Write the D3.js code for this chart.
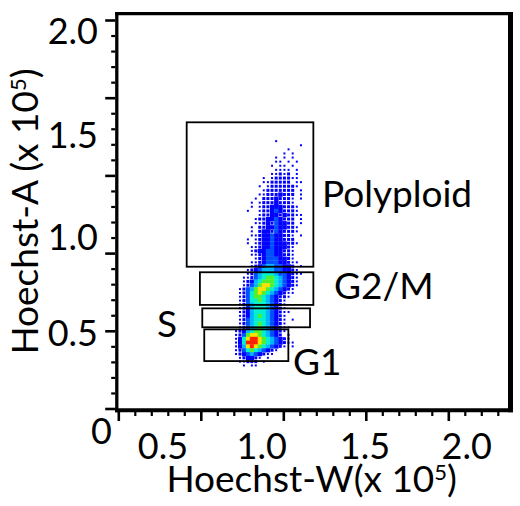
<!DOCTYPE html>
<html><head><meta charset="utf-8">
<script src="https://cdn.jsdelivr.net/npm/d3@7"></script>
<style>
body{margin:0;background:#fff}
text{font-family:Lato,'Open Sans',sans-serif;fill:#000}
</style>
</head><body>
<svg id="chart" width="520" height="506"></svg>
<script>
// ---- data ----
const xTickLabels = [0.5, 1.0, 1.5, 2.0];
const yTickLabels = [0.5, 1.0, 1.5, 2.0];
const originLabel = "0";
const xTitleText = "Hoechst-W(x 10";
const yTitleText = "Hoechst-A (x 10";
const exponentText = "5";
// instrument tick marks (major / minor)
const xMajorTicks = [0, 1, 2, 3, 4];
const xMinorTicks = [0.2,0.4,0.6,0.8,1.2,1.4,1.6,1.8,2.2,2.4,2.6,2.8,3.2,3.4,3.6,3.8,4.2,4.4,4.6];
const yMajorTicks = [0, 1, 2, 3, 4, 5];
const yMinorTicks = [0.2,0.4,0.6,0.8,1.2,1.4,1.6,1.8,2.2,2.4,2.6,2.8,3.2,3.4,3.6,3.8,4.2,4.4,4.6,4.8];
// gates (x 10^5 units)
const gateNames = ["Polyploid", "G2/M", "S", "G1"];
const gateXmin = [0.620, 0.687, 0.699, 0.709];
const gateXmax = [1.250, 1.250, 1.234, 1.129];
const gateYmin = [0.847, 0.647, 0.530, 0.353];
const gateYmax = [1.561, 0.818, 0.629, 0.519];
// event density (levels 0-9), bins of 0.02 x 0.02, columns from x=0.86, rows from y=1.46 (top) downward
const densityX0 = 0.86;
const densityTop = 1.46;
const densityBin = 0.02;
const densityRows = [
"..........1......",
"................1",
".............1...",
"............1.1..",
"..........1.1.1..",
"..........11.1.1.",
".........1.11.1..",
"..........1111.1.",
".........11212.1.",
".......1.1222211.",
".......1122222.11",
"......1.12222221.",
".......12222222.1",
"......112223222.1",
".....1.22232221.1",
"....1.122232221..",
"....1.1223332221.",
"...1..1223432221.",
"......12233232211",
".....1223343222.1",
".....1123243322.1",
"....1.2233433221.",
"....1.2332432221.",
"....11233433221.1",
"...1.1233433222..",
"...1.12334333221.",
"....11233433321..",
"....12334433221..",
"....11234433221..",
".....1234443321..",
"....112344433211.",
"....12345544332.1",
"...1234555443321.",
"...12456665443211",
"..11245677654321.",
"..12356777654321.",
"..12457887654321.",
".12457887654321..",
".12467876543211..",
".1246776543221...",
".124667654321....",
".124566654321....",
".123566654321....",
".1235666543211...",
".123567654321....",
".124566654321.1..",
".124567654321....",
".1245676543211...",
"1235677654321....",
"124788765432.1...",
"13689987654321...",
"136999876543211..",
"1358987654321.1..",
"12467654321......",
"1234543211.......",
".123321.1........",
".11222.1.........",
"..1.11..........."
];
const levelColors = ["#ffffff","#0000ff","#0000ff","#0000ff","#0050ff","#00b4ff","#00f0d0","#50f030","#f8e000","#ff2000"];

// ---- scales ----
const x = d3.scaleLinear().domain([0.5, 1.0, 1.5, 2.0]).range([163, 261.7, 365, 466.7]);
const y = d3.scaleLinear().domain([0.5, 1.0, 1.5, 2.0]).range([333, 237.5, 135, 31]);
const xt = d3.scaleLinear().domain([0, 4]).range([118.3, 448.3]);
const yt = d3.scaleLinear().domain([0, 5]).range([408.5, 20]);

const svg = d3.select("#chart");

// ---- density cells ----
const cells = [];
densityRows.forEach((row, r) => {
  const yLo = densityTop - r * densityBin, yHi = yLo + densityBin;
  row.split("").forEach((ch, c) => {
    const lv = ch === "." ? 0 : +ch;
    if (lv > 0) cells.push({xLo: densityX0 + c * densityBin, xHi: densityX0 + (c + 1) * densityBin, yLo, yHi, lv});
  });
});
const dotSize = lv => lv === 1 ? 2 : 3;
svg.append("g").selectAll("rect").data(cells).join("rect")
  .attr("x", d => {
    const a = x(d.xLo), b = x(d.xHi);
    return d.lv >= 3 ? a : (a + b) / 2 - dotSize(d.lv) / 2;
  })
  .attr("y", d => {
    const a = y(d.yHi), b = y(d.yLo);
    return d.lv >= 3 ? a : (a + b) / 2 - dotSize(d.lv) / 2;
  })
  .attr("width", d => d.lv >= 3 ? x(d.xHi) - x(d.xLo) + 0.3 : dotSize(d.lv))
  .attr("height", d => d.lv >= 3 ? y(d.yLo) - y(d.yHi) + 0.3 : dotSize(d.lv))
  .attr("fill", d => levelColors[d.lv]);

// ---- gates ----
const gates = gateNames.map((n, i) => ({n, x0: gateXmin[i], x1: gateXmax[i], y0: gateYmin[i], y1: gateYmax[i]}));
svg.append("g").selectAll("rect").data(gates).join("rect")
  .attr("x", d => x(d.x0)).attr("y", d => y(d.y1))
  .attr("width", d => x(d.x1) - x(d.x0)).attr("height", d => y(d.y0) - y(d.y1))
  .attr("fill", "none").attr("stroke", "#000").attr("stroke-width", 1.8);

// gate labels
const gateLabelPos = {"Polyploid": [322, 206.5], "G2/M": [334, 298.5], "S": [157, 336.5], "G1": [293, 375]};
svg.append("g").selectAll("text").data(gates).join("text")
  .attr("x", d => gateLabelPos[d.n][0]).attr("y", d => gateLabelPos[d.n][1])
  .attr("font-size", 37).text(d => d.n);

// ---- frame ----
const frame = svg.append("g").attr("stroke", "#000").attr("fill", "none");
frame.append("line").attr("x1", 115).attr("x2", 513).attr("y1", 13.7).attr("y2", 13.7).attr("stroke-width", 3.3);
frame.append("line").attr("x1", 116.8).attr("x2", 116.8).attr("y1", 12).attr("y2", 412.3).attr("stroke-width", 3.3);
frame.append("line").attr("x1", 510.5).attr("x2", 510.5).attr("y1", 12).attr("y2", 412.3).attr("stroke-width", 5);
frame.append("line").attr("x1", 115).attr("x2", 513).attr("y1", 410.3).attr("y2", 410.3).attr("stroke-width", 4);

// ---- tick marks ----
function styleAxis(g, w) {
  g.select(".domain").remove();
  g.selectAll(".tick line").attr("stroke", "#000").attr("stroke-width", w);
  g.selectAll(".tick text").remove();
}
svg.append("g").attr("transform", "translate(0,412)")
  .call(d3.axisBottom(xt).tickValues(xMinorTicks).tickSize(4).tickFormat(""))
  .call(g => styleAxis(g, 2.2));
svg.append("g").attr("transform", "translate(0,412)")
  .call(d3.axisBottom(xt).tickValues(xMajorTicks).tickSize(9).tickFormat(""))
  .call(g => styleAxis(g, 2.6));
svg.append("g").attr("transform", "translate(115.2,0)")
  .call(d3.axisLeft(yt).tickValues(yMinorTicks).tickSize(4).tickFormat(""))
  .call(g => styleAxis(g, 2.2));
svg.append("g").attr("transform", "translate(115.2,0)")
  .call(d3.axisLeft(yt).tickValues(yMajorTicks).tickSize(10).tickFormat(""))
  .call(g => styleAxis(g, 2.6));

// ---- tick labels ----
const fmt = d3.format(".1f");
svg.append("g").selectAll("text").data(xTickLabels).join("text")
  .attr("x", d => x(d)).attr("y", 459).attr("text-anchor", "middle")
  .attr("font-size", 36).text(fmt);
svg.append("g").selectAll("text").data(yTickLabels).join("text")
  .attr("x", 98).attr("y", d => y(d) + 12.8).attr("text-anchor", "end")
  .attr("font-size", 36).text(fmt);
svg.append("text").attr("x", 101.5).attr("y", 444).attr("text-anchor", "middle")
  .attr("font-size", 36).text(originLabel);

// ---- axis titles ----
const xt1 = svg.append("text").attr("x", 311.7).attr("y", 491.5).attr("text-anchor", "middle").attr("font-size", 37);
xt1.append("tspan").text(xTitleText);
xt1.append("tspan").attr("font-size", 22).attr("dy", -12).text(exponentText);
xt1.append("tspan").attr("dy", 12).text(")");

const yt1 = svg.append("text").attr("transform", "translate(38,211.5) rotate(-90)").attr("text-anchor", "middle").attr("font-size", 37);
yt1.append("tspan").text(yTitleText);
yt1.append("tspan").attr("font-size", 22).attr("dy", -12).text(exponentText);
yt1.append("tspan").attr("dy", 12).text(")");
</script>
</body></html>
